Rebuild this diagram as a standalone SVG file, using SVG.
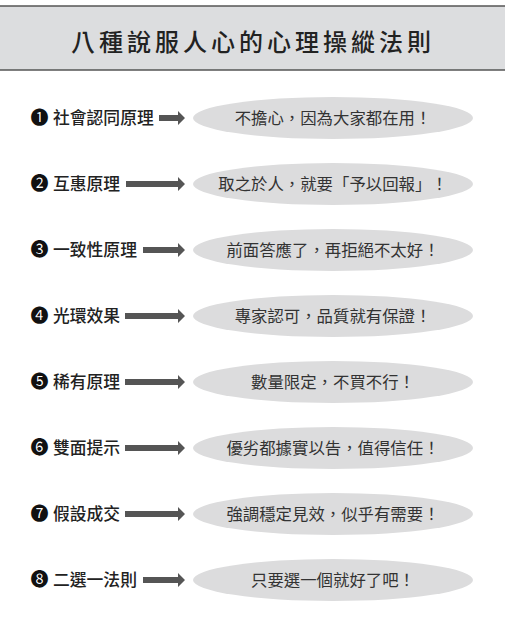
<svg xmlns="http://www.w3.org/2000/svg" width="505" height="618" viewBox="0 0 505 618">
<style>
.title{font-family:"Noto Sans CJK TC","Noto Sans CJK SC",sans-serif;font-size:24px;font-weight:500;fill:#222;letter-spacing:4px;text-anchor:middle}
.num{font-family:"Noto Sans CJK TC","Noto Sans CJK JP",sans-serif;font-size:18px;fill:#111;text-anchor:middle}
.lbl{font-family:"Noto Sans CJK TC","Noto Sans CJK SC",sans-serif;font-size:16.8px;font-weight:500;fill:#222}
.bub{fill:#dcdcdd}
.msg{font-family:"Noto Sans CJK TC","Noto Sans CJK SC",sans-serif;font-size:16.4px;fill:#333;text-anchor:middle}
.arr{fill:#555}
</style>
<rect x="-2" y="6" width="509" height="64" fill="#dcdddf" stroke="#555" stroke-width="1.5"/>
<text class="title" x="253" y="51">八種說服人心的心理操縱法則</text>

<g id="connectors">
<path class="arr" d="M159,115 H178 V111 L185,118 L178,125 V121 H159 Z"/>
<path class="arr" d="M126,181 H178 V177 L185,184 L178,191 V187 H126 Z"/>
<path class="arr" d="M143,247 H178 V243 L185,250 L178,257 V253 H143 Z"/>
<path class="arr" d="M125,313 H178 V309 L185,316 L178,323 V319 H125 Z"/>
<path class="arr" d="M125,379 H178 V375 L185,382 L178,389 V385 H125 Z"/>
<path class="arr" d="M125,445 H178 V441 L185,448 L178,455 V451 H125 Z"/>
<path class="arr" d="M125,511 H178 V507 L185,514 L178,521 V517 H125 Z"/>
<path class="arr" d="M143,577 H178 V573 L185,580 L178,587 V583 H143 Z"/>
</g>

<g id="rule1"><text class="num" x="39.5" y="124.3">❶</text><text class="lbl" x="53" y="124">社會認同原理</text></g>
<g id="msg1"><ellipse class="bub" cx="333" cy="118" rx="140" ry="21"/><text class="msg" x="333" y="124">不擔心，因為大家都在用！</text></g>

<g id="rule2"><text class="num" x="39.5" y="190.3">❷</text><text class="lbl" x="53" y="190">互惠原理</text></g>
<g id="msg2"><ellipse class="bub" cx="333" cy="184" rx="140" ry="21"/><text class="msg" x="333" y="190">取之於人，就要「予以回報」！</text></g>

<g id="rule3"><text class="num" x="39.5" y="256.3">❸</text><text class="lbl" x="53" y="256">一致性原理</text></g>
<g id="msg3"><ellipse class="bub" cx="333" cy="250" rx="140" ry="21"/><text class="msg" x="333" y="256">前面答應了，再拒絕不太好！</text></g>

<g id="rule4"><text class="num" x="39.5" y="322.3">❹</text><text class="lbl" x="53" y="322">光環效果</text></g>
<g id="msg4"><ellipse class="bub" cx="333" cy="316" rx="140" ry="21"/><text class="msg" x="333" y="322">專家認可，品質就有保證！</text></g>

<g id="rule5"><text class="num" x="39.5" y="388.3">❺</text><text class="lbl" x="53" y="388">稀有原理</text></g>
<g id="msg5"><ellipse class="bub" cx="333" cy="382" rx="140" ry="21"/><text class="msg" x="333" y="388">數量限定，不買不行！</text></g>

<g id="rule6"><text class="num" x="39.5" y="454.3">❻</text><text class="lbl" x="53" y="454">雙面提示</text></g>
<g id="msg6"><ellipse class="bub" cx="333" cy="448" rx="140" ry="21"/><text class="msg" x="333" y="454">優劣都據實以告，值得信任！</text></g>

<g id="rule7"><text class="num" x="39.5" y="520.3">❼</text><text class="lbl" x="53" y="520">假設成交</text></g>
<g id="msg7"><ellipse class="bub" cx="333" cy="514" rx="140" ry="21"/><text class="msg" x="333" y="520">強調穩定見效，似乎有需要！</text></g>

<g id="rule8"><text class="num" x="39.5" y="586.3">❽</text><text class="lbl" x="53" y="586">二選一法則</text></g>
<g id="msg8"><ellipse class="bub" cx="333" cy="580" rx="140" ry="21"/><text class="msg" x="333" y="586">只要選一個就好了吧！</text></g>
</svg>
